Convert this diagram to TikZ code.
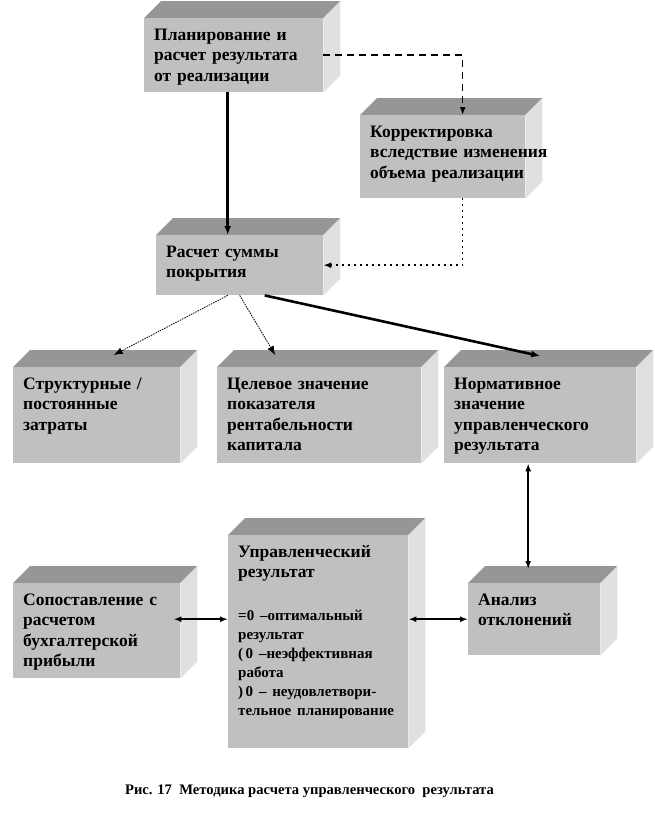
\documentclass[tikz,border=0pt]{standalone}
\usepackage{fontspec}
\setmainfont{Liberation Serif}
\usetikzlibrary{arrows.meta,calc,backgrounds}
\definecolor{frontgray}{RGB}{192,192,192}
\definecolor{topgray}{RGB}{150,150,150}
\definecolor{sidegray}{RGB}{224,224,224}
\tikzset{
	box/.style 2 args={rectangle,fill=frontgray,anchor=north west,align=left,
		font=\fontsize{17.5}{20.5}\selectfont\bfseries,
		text width=#1-20,minimum width=#1,inner xsep=10,inner ysep=0,
		text height=22,text depth=#2-22},
	topface/.style={fill=topgray},
	sideface/.style={fill=sidegray},
	thickarr/.style={-{Latex[length=9pt,width=7pt]},line width=2.6pt},
	dasharr/.style={-{Latex[length=8pt,width=6pt]},line width=1.5pt,dash pattern=on 7pt off 5pt},
	dotarr/.style={-{Latex[length=8pt,width=6pt]},line width=1.5pt,dash pattern=on 2pt off 4pt},
	thinarr/.style={-{Latex[length=9pt,width=7pt]},line width=.8pt,dash pattern=on 1.5pt off 1pt},
	dblarr/.style={{Latex[length=8pt,width=6pt]}-{Latex[length=8pt,width=6pt]},line width=2pt},
	caption/.style={anchor=base,font=\fontsize{14.6}{16}\selectfont\bfseries}
}
\newcommand{\boxsides}[1]{%
	\begin{scope}[on background layer]
	\fill[topface] (#1.north west) -- ++(17,-17) -- ($(#1.north east)+(17,-17)$) -- (#1.north east) -- cycle;
	\fill[sideface] (#1.north east) -- ++(17,-17) -- ($(#1.south east)+(17,-17)$) -- (#1.south east) -- cycle;
	\end{scope}}
\begin{document}
\begin{tikzpicture}[x=1pt,y=-1pt]
\useasboundingbox (0,0) rectangle (655,814);
%%%% planning
\node[box={179}{74}] (plan) at (144,18) {Планирование и\\ расчет результата\\ от реализации};
\node[box={165}{83}] (correct) at (360,115) {Корректировка\\ вследствие~изменения\\ объема~реализации};
\node[box={167}{60}] (cover) at (156,235) {Расчет суммы\\ покрытия};

%%%% row of targets
\node[box={167}{96}] (fixed) at (13,367) {Структурные /\\ постоянные\\ затраты};
\node[box={204}{96}] (target) at (217,367) {Целевое значение\\ показателя\\ рентабельности\\ капитала};
\node[box={192}{96}] (norm) at (444,367) {Нормативное\\ значение\\ управленческого\\ результата};

%%%% result
\node[box={167}{95}] (compare) at (13,583) {Сопоставление с\\ расчетом\\ бухгалтерской\\ прибыли};
\node[box={180}{213}] (result) at (228,535) {Управленческий\\ результат\par
	\vspace{24pt}
	{\fontsize{15}{19}\selectfont =0 –оптимальный\\ результат\\ (\,0 –неэффективная\\ работа\\ )\,0 – неудовлетвори-\\ тельное планирование\par}};
\node[box={132}{72}] (analysis) at (468,583) {Анализ\\ отклонений};

\boxsides{plan} \boxsides{correct} \boxsides{cover}
\boxsides{fixed} \boxsides{target} \boxsides{norm}
\boxsides{compare} \boxsides{result} \boxsides{analysis}

\draw[thickarr] ([xshift=-6]plan.south) -- ($(plan.south |- cover.north)+(-6,0)$);
\draw[dasharr] (plan.east) -| ([xshift=20]correct.north);
\draw[dotarr] ([xshift=20]correct.south) |- (cover.east);

\draw[thinarr] ([xshift=-12]cover.south) -- ($(fixed.north)+(17,-12)$);
\draw[thinarr] (cover.south) -- ($(target.north)+(-44,-12)$);
\draw[thickarr] ([xshift=25]cover.south) -- ($(norm.north)+(0,-11)$);

\draw[dblarr] ([xshift=-12]norm.south) -- ($(norm.south |- analysis.north)+(-12,-14)$);
\draw[dblarr] ($(compare.east |- analysis.west)+(-7,0)$) -- (result.west |- analysis.west);
\draw[dblarr] (result.east |- analysis.west) -- (analysis.west);

\node[caption] (fig) at (309.5,794) {Рис. 17\ \ Методика расчета управленческого\ \ результата};
\end{tikzpicture}
\end{document}
